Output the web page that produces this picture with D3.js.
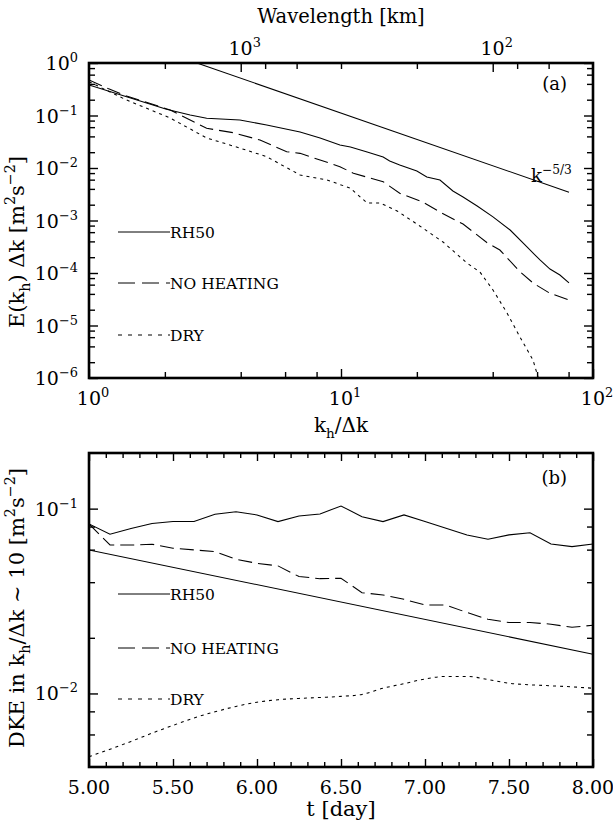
<!DOCTYPE html>
<html>
<head>
<meta charset="utf-8">
<script src="https://cdn.jsdelivr.net/npm/d3@7"></script>
<style>
  body { margin: 0; background: #fff; }
  svg text { font-family: "DejaVu Serif", serif; fill: #000; }
</style>
</head>
<body>
<svg id="chart" width="613" height="824" font-family="DejaVu Serif"></svg>
<script>
// ---------- Panel (a): kinetic energy spectra E(k_h) ----------
const rh50K = [1, 1.41, 2.03, 2.52, 2.93, 3.97, 5.07, 6.88, 8.26, 9.9, 10.9, 12.7, 14.7, 15.6, 17.1, 20.0, 21.9, 24.7, 27.8, 30.5, 34.7, 40.1, 46.9, 54.7, 61.6, 67.5, 73.9, 80.3];
const rh50E = [0.381, 0.228, 0.131, 0.102, 0.0885, 0.082, 0.0659, 0.0485, 0.0373, 0.0274, 0.0251, 0.0202, 0.0162, 0.0136, 0.0114, 0.00877, 0.00674, 0.0059, 0.00365, 0.00281, 0.00189, 0.00117, 0.000659, 0.000313, 0.000177, 0.000119, 0.0000916, 0.0000646];

const noHeatK = [1, 1.19, 1.41, 1.75, 2.10, 2.93, 3.74, 4.77, 6.09, 6.88, 8.26, 9.9, 11.2, 14.7, 17.1, 21.0, 25.2, 30.5, 37.9, 42.7, 51.3, 58.0, 67.5, 80.5];
const noHeatE = [0.474, 0.327, 0.235, 0.169, 0.127, 0.057, 0.047, 0.0341, 0.0204, 0.019, 0.0142, 0.0106, 0.00792, 0.00548, 0.0033, 0.00228, 0.00137, 0.000857, 0.000381, 0.000274, 0.000106, 0.0000637, 0.000041, 0.0000306];

const dryK = [1, 1.19, 1.41, 2.10, 2.93, 3.97, 5.07, 6.88, 8.8, 10.86, 12.7, 14.3, 16.7, 20.0, 25.4, 31.6, 35.6, 40.1, 45.6, 51.3, 57.8, 60.5];
const dryE = [0.44, 0.293, 0.197, 0.0896, 0.0373, 0.024, 0.0164, 0.00736, 0.0059, 0.00416, 0.00215, 0.00215, 0.00152, 0.000857, 0.000389, 0.000155, 0.000104, 0.0000474, 0.0000173, 0.00000604, 0.0000022, 0.00000105];

// k^(-5/3) reference slope
const slopeK = [2.68, 80.3];
const slopeE = [1.0, 0.00346];

// tick values
const kMajor = [1, 10, 100];
const kMinor = [2, 4, 6, 8, 20, 40, 60, 80];
const eMajor = [1e-6, 1e-5, 1e-4, 1e-3, 1e-2, 1e-1, 1];
const eMinor = d3.range(-6, 0).flatMap(p => [2, 4, 6, 8].map(m => m * Math.pow(10, p)));
const waveMajor = [1000, 100];
const waveMinor = [2000, 800, 600, 400, 200, 80, 60];
const domainLength = 4000; // km, wavelength = L / k

// ---------- Panel (b): DKE near k_h/Δk ~ 10 ----------
const tDays = [5.000, 5.125, 5.250, 5.375, 5.500, 5.625, 5.750, 5.875, 6.000, 6.125, 6.250, 6.375, 6.500,
               6.625, 6.750, 6.875, 7.000, 7.125, 7.250, 7.375, 7.500, 7.625, 7.750, 7.875, 8.000];
const rh50DKE = [0.0827, 0.0727, 0.0781, 0.0832, 0.0851, 0.0851, 0.0933, 0.0963, 0.0925, 0.0851, 0.0913, 0.0936, 0.1034,
                 0.0905, 0.0851, 0.0925, 0.0851, 0.0783, 0.0721, 0.0683, 0.0721, 0.0741, 0.0644, 0.0623, 0.0644];
const noHeatDKE = [0.0827, 0.0636, 0.0635, 0.0642, 0.0611, 0.0598, 0.0585, 0.0532, 0.0506, 0.0490, 0.0429, 0.0418, 0.0420,
                   0.0351, 0.0341, 0.0323, 0.0301, 0.0301, 0.0274, 0.0252, 0.0242, 0.0242, 0.0237, 0.0228, 0.0234];
const dryDKE = [0.00455, 0.00499, 0.00550, 0.00610, 0.00672, 0.00737, 0.00796, 0.00851, 0.00896, 0.00925, 0.00940, 0.00951, 0.00964,
                0.00988, 0.01067, 0.01129, 0.01198, 0.01236, 0.01236, 0.0119, 0.01135, 0.01114, 0.0110, 0.01086, 0.01067];
const decayT = [5.0, 8.0];
const decayDKE = [0.0598, 0.0163];

const tMajor = [5.0, 5.5, 6.0, 6.5, 7.0, 7.5, 8.0];
const tMinor = d3.range(51, 80).map(v => v / 10).filter(v => Math.abs(v * 2 - Math.round(v * 2)) > 1e-6);
const dkeMajor = [0.01, 0.1];
const dkeMinor = [0.006, 0.008, 0.02, 0.04, 0.06, 0.08];

const legendNames = ["RH50", "NO HEATING", "DRY"];

// ---------- shared helpers ----------
const svg = d3.select("#chart");
const dashes = { solid: null, dashed: "14,6", dotted: "3,4" };
const legendDashes = { solid: null, dashed: "17,7", dotted: "4,6" };
const tickFont = 19, titleFont = 21;

function richText(sel, parts, size) {
  let off = 0;
  sel.attr("font-size", size);
  parts.forEach(p => {
    const target = p.sup ? -0.42 * size : p.sub ? 0.28 * size : 0;
    sel.append("tspan")
      .attr("dy", target - off)
      .attr("font-size", (p.sup || p.sub) ? size * 0.68 : size)
      .text(p.t);
    off = target;
  });
  return sel;
}

function powParts(exp) {
  return [{ t: "10" }, { t: exp, sup: true }];
}

function expLabel(v) {
  const e = Math.round(Math.log10(v));
  return e < 0 ? "\u2212" + (-e) : String(e);
}

function ticks(g, axisFn, scale, values, len, transform) {
  const a = g.append("g")
    .attr("transform", transform)
    .call(axisFn(scale).tickValues(values).tickSizeInner(-len).tickSizeOuter(0).tickFormat(""));
  a.select(".domain").remove();
  a.selectAll("line").attr("stroke", "#000").attr("stroke-width", 1.4);
  return a;
}

function frame(box) {
  svg.append("rect")
    .attr("x", box.l).attr("y", box.t)
    .attr("width", box.r - box.l).attr("height", box.b - box.t)
    .attr("fill", "none").attr("stroke", "#000").attr("stroke-width", 2.6);
}

function legend(x0, x1, ys) {
  const styles = ["solid", "dashed", "dotted"];
  styles.forEach((s, i) => {
    svg.append("line")
      .attr("x1", x0).attr("x2", x1).attr("y1", ys[i]).attr("y2", ys[i])
      .attr("stroke", "#000").attr("stroke-width", 1)
      .attr("stroke-dasharray", legendDashes[s]);
    svg.append("text")
      .attr("x", x1).attr("y", ys[i] + 5.5)
      .attr("font-size", 15.5)
      .text(legendNames[i]);
  });
}

function drawSeries(g, xs, ys, xScale, yScale, style, curve) {
  const pts = xs.map((x, i) => [x, ys[i]]);
  g.append("path")
    .datum(pts)
    .attr("fill", "none")
    .attr("stroke", "#000")
    .attr("stroke-width", 1.05)
    .attr("stroke-dasharray", dashes[style])
    .attr("d", d3.line().x(d => xScale(d[0])).y(d => yScale(d[1])).curve(curve || d3.curveLinear));
}

// ================= Panel (a) =================
const A = { l: 89, r: 593, t: 63, b: 378 };
const xA = d3.scaleLog().domain([1, 100]).range([A.l, A.r]);
const yA = d3.scaleLog().domain([1e-6, 1]).range([A.b, A.t]);
const xWave = d3.scaleLog().domain([domainLength, domainLength / 100]).range([A.l, A.r]);

svg.append("clipPath").attr("id", "clipA")
  .append("rect").attr("x", A.l).attr("y", A.t).attr("width", A.r - A.l).attr("height", A.b - A.t);
const gA = svg.append("g").attr("clip-path", "url(#clipA)");

drawSeries(gA, slopeK, slopeE, xA, yA, "solid");
drawSeries(gA, rh50K, rh50E, xA, yA, "solid");
drawSeries(gA, noHeatK, noHeatE, xA, yA, "dashed");
drawSeries(gA, dryK, dryE, xA, yA, "dotted");

const axA = svg.append("g");
ticks(axA, d3.axisBottom, xA, kMajor, 9, `translate(0,${A.b})`);
ticks(axA, d3.axisBottom, xA, kMinor, 6, `translate(0,${A.b})`);
ticks(axA, d3.axisTop, xWave, waveMajor, 9, `translate(0,${A.t})`);
ticks(axA, d3.axisTop, xWave, waveMinor, 6, `translate(0,${A.t})`);
ticks(axA, d3.axisLeft, yA, eMajor, 9, `translate(${A.l},0)`);
ticks(axA, d3.axisLeft, yA, eMinor, 6, `translate(${A.l},0)`);
ticks(axA, d3.axisRight, yA, eMajor, 9, `translate(${A.r},0)`);
ticks(axA, d3.axisRight, yA, eMinor, 6, `translate(${A.r},0)`);
frame(A);

// tick labels
eMajor.forEach(v => {
  richText(svg.append("text").attr("x", 78).attr("y", yA(v) + 7).attr("text-anchor", "end"),
    powParts(expLabel(v)), tickFont);
});
kMajor.forEach(v => {
  richText(svg.append("text").attr("x", xA(v) + 4).attr("y", A.b + 27).attr("text-anchor", "middle"),
    powParts(expLabel(v)), tickFont);
});
waveMajor.forEach(v => {
  richText(svg.append("text").attr("x", xWave(v) + 4).attr("y", A.t - 8).attr("text-anchor", "middle"),
    powParts(expLabel(v)), tickFont);
});

// axis titles
svg.append("text").attr("x", 341).attr("y", 23).attr("text-anchor", "middle")
  .attr("font-size", 19.5).text("Wavelength [km]");
richText(svg.append("text").attr("x", 341).attr("y", 432).attr("text-anchor", "middle"),
  [{ t: "k" }, { t: "h", sub: true }, { t: "/\u0394k" }], 20);
richText(svg.append("text").attr("transform", "translate(24,242) rotate(-90)").attr("text-anchor", "middle"),
  [{ t: "E(k" }, { t: "h", sub: true }, { t: ")  \u0394k  [m" }, { t: "2", sup: true }, { t: "s" }, { t: "\u22122", sup: true }, { t: "]" }], titleFont);

svg.append("text").attr("x", 567).attr("y", 90).attr("text-anchor", "end").attr("font-size", 18).text("(a)");
richText(svg.append("text").attr("x", 531).attr("y", 182),
  [{ t: "k" }, { t: "\u22125/3", sup: true }], 18);

legend(118, 170, [232, 283, 335]);

// ================= Panel (b) =================
const B = { l: 89, r: 593, t: 453, b: 767 };
const xB = d3.scaleLinear().domain([5, 8]).range([B.l, B.r]);
const yB = d3.scaleLog().domain([0.004, 0.2]).range([B.b, B.t]);

svg.append("clipPath").attr("id", "clipB")
  .append("rect").attr("x", B.l).attr("y", B.t).attr("width", B.r - B.l).attr("height", B.b - B.t);
const gB = svg.append("g").attr("clip-path", "url(#clipB)");

drawSeries(gB, decayT, decayDKE, xB, yB, "solid");
drawSeries(gB, tDays, rh50DKE, xB, yB, "solid");
drawSeries(gB, tDays, noHeatDKE, xB, yB, "dashed");
drawSeries(gB, tDays, dryDKE, xB, yB, "dotted", d3.curveMonotoneX);

const axB = svg.append("g");
ticks(axB, d3.axisBottom, xB, tMajor, 8, `translate(0,${B.b})`);
ticks(axB, d3.axisBottom, xB, tMinor, 5, `translate(0,${B.b})`);
ticks(axB, d3.axisTop, xB, tMajor, 8, `translate(0,${B.t})`);
ticks(axB, d3.axisTop, xB, tMinor, 5, `translate(0,${B.t})`);
ticks(axB, d3.axisLeft, yB, dkeMajor, 9, `translate(${B.l},0)`);
ticks(axB, d3.axisLeft, yB, dkeMinor, 6, `translate(${B.l},0)`);
ticks(axB, d3.axisRight, yB, dkeMajor, 9, `translate(${B.r},0)`);
ticks(axB, d3.axisRight, yB, dkeMinor, 6, `translate(${B.r},0)`);
frame(B);

dkeMajor.forEach(v => {
  richText(svg.append("text").attr("x", 78).attr("y", yB(v) + 7).attr("text-anchor", "end"),
    powParts(expLabel(v)), tickFont);
});
tMajor.forEach(v => {
  svg.append("text").attr("x", xB(v)).attr("y", B.b + 27).attr("text-anchor", "middle")
    .attr("font-size", tickFont).text(d3.format(".2f")(v));
});
svg.append("text").attr("x", 341).attr("y", 816).attr("text-anchor", "middle")
  .attr("font-size", titleFont).text("t [day]");
richText(svg.append("text").attr("transform", "translate(24,608) rotate(-90)").attr("text-anchor", "middle"),
  [{ t: "DKE in k" }, { t: "h", sub: true }, { t: "/\u0394k ~ 10 [m" }, { t: "2", sup: true }, { t: "s" }, { t: "\u22122", sup: true }, { t: "]" }], titleFont);

svg.append("text").attr("x", 567).attr("y", 484).attr("text-anchor", "end").attr("font-size", 18).text("(b)");

legend(118, 170, [594, 648, 699]);
</script>
</body>
</html>
